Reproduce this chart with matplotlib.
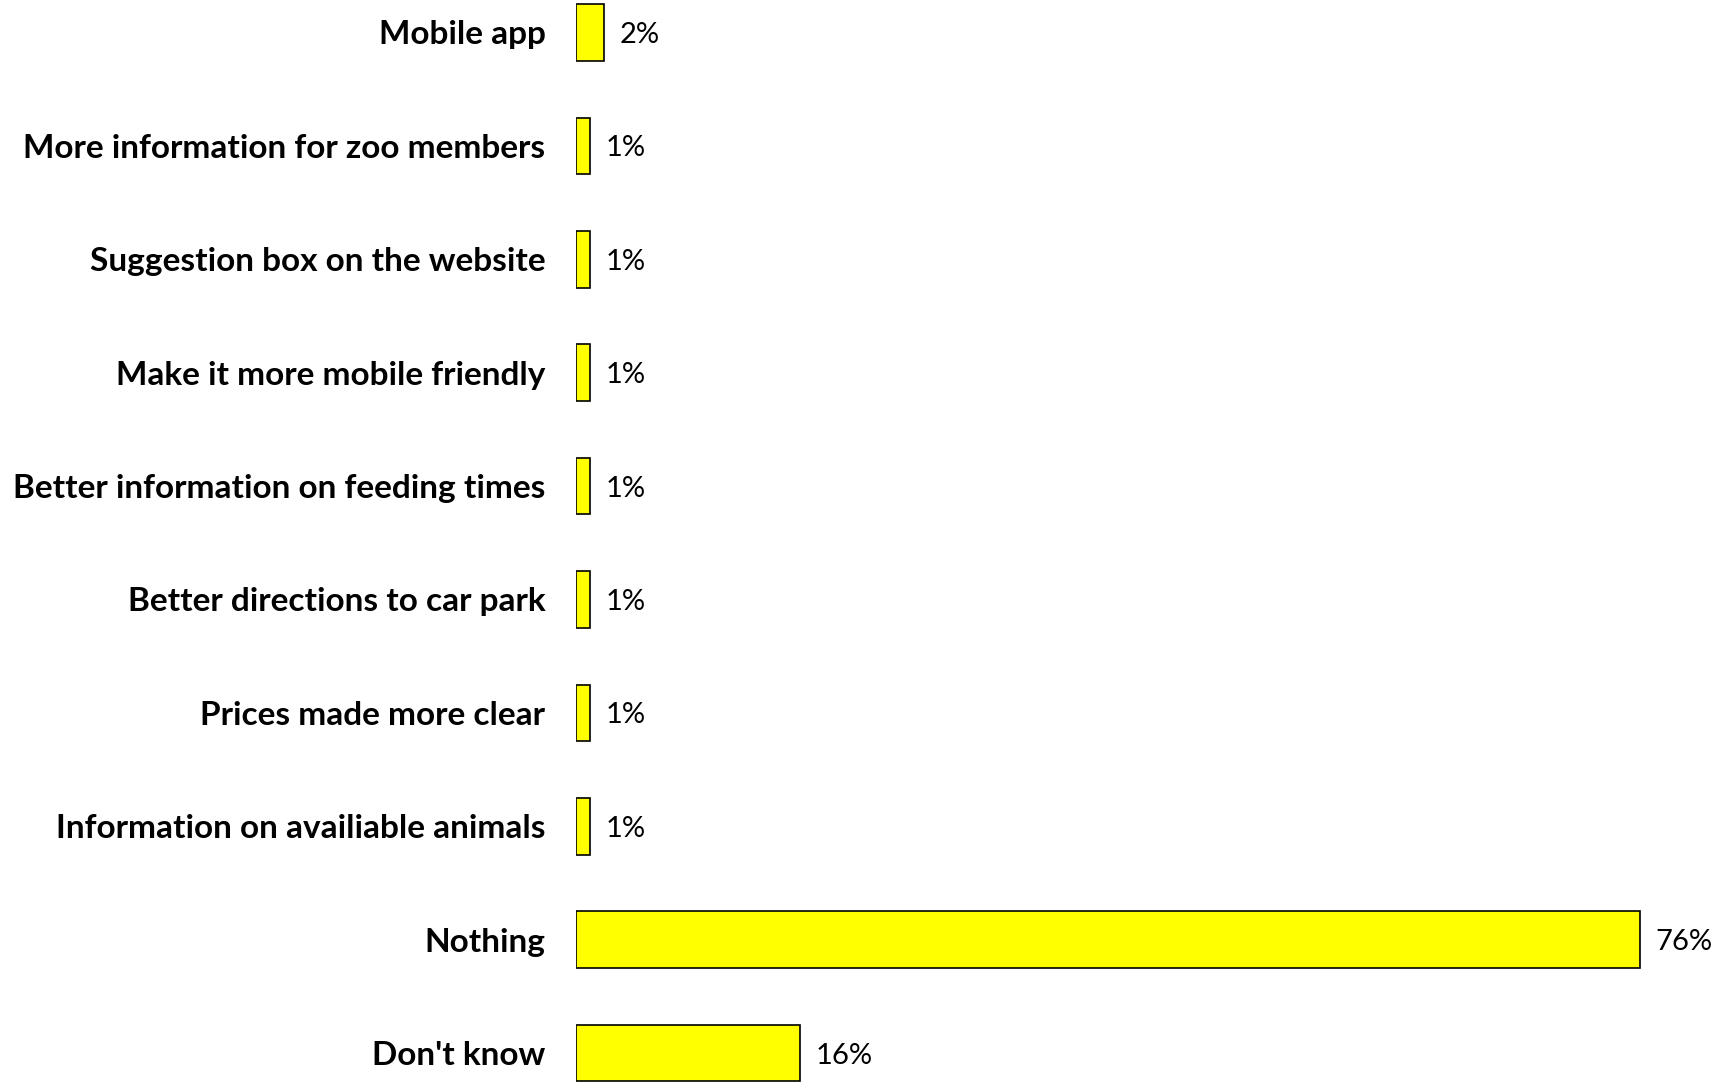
import matplotlib.pyplot as plt

categories = [
    "Mobile app",
    "More information for zoo members",
    "Suggestion box on the website",
    "Make it more mobile friendly",
    "Better information on feeding times",
    "Better directions to car park",
    "Prices made more clear",
    "Information on availiable animals",
    "Nothing",
    "Don't know",
]
values = [2, 1, 1, 1, 1, 1, 1, 1, 76, 16]
value_labels = ["2%", "1%", "1%", "1%", "1%", "1%", "1%", "1%", "76%", "16%"]

plt.rcParams["font.family"] = ["Lato", "DejaVu Sans"]

fig = plt.figure(figsize=(17.19, 10.88), dpi=100)
ax = fig.add_axes([0.3351, 0.0, 0.6649, 1.0])

ypos = list(range(len(categories)))
bars = ax.barh(ypos, values, height=0.5, color="#FFFF00",
               edgecolor="black", linewidth=1.2)

for bar, lab in zip(bars, value_labels):
    ax.annotate(lab, (bar.get_width(), bar.get_y() + bar.get_height() / 2),
                xytext=(11, 0), textcoords="offset points",
                va="center_baseline", ha="left", fontsize=21)

ax.set_xlim(0, 81.64)
ax.set_ylim(9.308, -0.2866)
ax.set_yticks(ypos)
ax.set_yticklabels(categories, fontsize=24, fontweight="bold")
for t in ax.get_yticklabels():
    t.set_verticalalignment("center_baseline")
ax.tick_params(axis="y", length=0, pad=22)
ax.set_xticks([])
for s in ax.spines.values():
    s.set_visible(False)

fig.savefig("out.png", dpi=100)
